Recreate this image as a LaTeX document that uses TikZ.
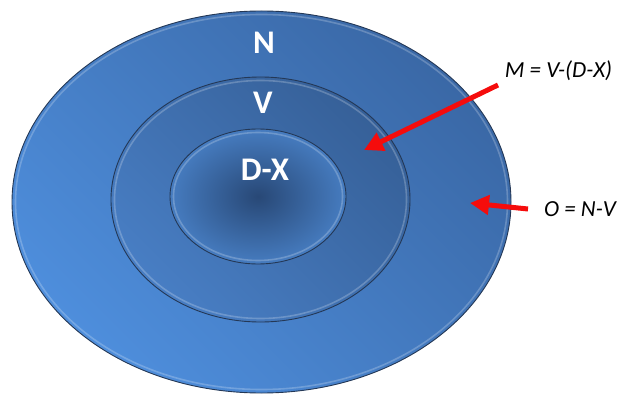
\documentclass[tikz,border=0pt]{standalone}
\usepackage{fontspec}
\setmainfont{Carlito}
\usetikzlibrary{arrows.meta}

\definecolor{ringlight}{RGB}{78,142,220}
\definecolor{ringdark}{RGB}{58,104,166}
\definecolor{midlight}{RGB}{72,126,196}
\definecolor{middark}{RGB}{54,96,152}
\definecolor{corelight}{RGB}{70,124,192}
\definecolor{coredark}{RGB}{40,72,118}
\definecolor{rimline}{RGB}{36,56,86}
\definecolor{arrowred}{RGB}{245,12,12}

\tikzset{
  setlabel/.style={text=white, font=\bfseries\fontsize{33}{34}\selectfont, inner sep=0pt},
  eqlabel/.style={text=black, font=\itshape\fontsize{23}{25}\selectfont, inner sep=0pt},
  rim/.style={draw=rimline, line width=0.9pt},
  bevel/.style={draw=white, draw opacity=0.22, line width=1.6pt},
  pointer/.style={draw=arrowred, line width=5pt, -{Triangle[length=19pt, width=19pt]}},
}

\begin{document}
\begin{tikzpicture}[x=1pt, y=-1pt]
  \useasboundingbox (0,0) rectangle (617,395);

  % Centres of the three sets
  \coordinate (cN) at (261.5,202);
  \coordinate (cV) at (260.5,199.5);
  \coordinate (cDX) at (258,196.5);

  % Outer set N
  \shade [top color=ringlight, bottom color=ringdark, shading angle=135]
    (cN) ellipse [x radius=249.5, y radius=191];
  \draw [rim] (cN) ellipse [x radius=249.5, y radius=191];
  \draw [bevel] (cN) ellipse [x radius=246, y radius=187.5];

  % Middle set V
  \shade [top color=midlight, bottom color=middark, shading angle=135]
    (cV) ellipse [x radius=149.5, y radius=122.5];
  \draw [rim] (cV) ellipse [x radius=149.5, y radius=122.5];
  \draw [bevel] (cV) ellipse [x radius=146, y radius=119];

  % Inner set D-X
  \shade [inner color=coredark, outer color=corelight]
    (cDX) ellipse [x radius=88, y radius=67.5];
  \draw [rim] (cDX) ellipse [x radius=88, y radius=67.5];
  \draw [bevel] (cDX) ellipse [x radius=84.5, y radius=64];

  % Set labels
  \node [setlabel] (lblN) at (264,43) {N};
  \node [setlabel] (lblV) at (263,103) {V};
  \node [setlabel] (lblDX) at (265,170) {D-X};

  % Difference labels and pointers
  \node [eqlabel] (lblM) at (558.5,71) {M = V-(D-X)};
  \node [eqlabel] (lblO) at (580,209.5) {O = N-V};

  \coordinate (mtail) at (498,85);
  \coordinate (mtip) at (364,150);
  \coordinate (otail) at (528,209);
  \coordinate (otip) at (470,203);

  \draw [pointer] (mtail) -- (mtip);
  \draw [pointer] (otail) -- (otip);
\end{tikzpicture}
\end{document}
